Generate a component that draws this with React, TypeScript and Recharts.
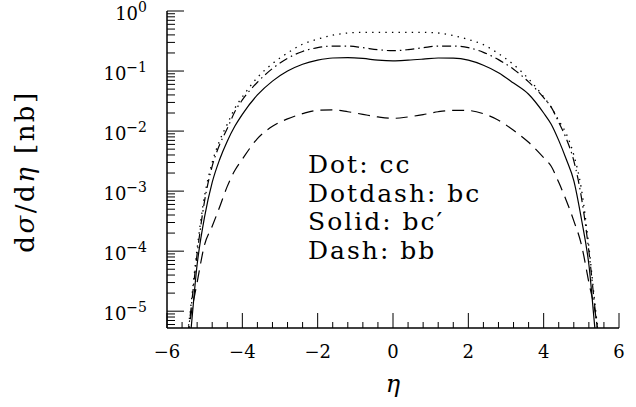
import { LineChart, Line, XAxis, YAxis, Customized } from "recharts";

// pseudorapidity grid and the four curves (dσ/dη in nb)
const ETA = [
  -5.6, -5.4, -5.2, -5.0, -4.8, -4.6, -4.4, -4.2, -4.0, -3.6, -3.2, -2.8, -2.4, -2.0, -1.6, -1.2, -0.8, -0.4, 0,
  0.4, 0.8, 1.2, 1.6, 2.0, 2.4, 2.8, 3.2, 3.6, 4.0, 4.2, 4.4, 4.6, 4.8, 5.0, 5.2, 5.4, 5.6,
];
const CC = [
  1e-6, 8e-6, 1.1e-4, 8.5e-4, 3e-3, 7e-3, 0.013, 0.024, 0.037, 0.078, 0.133, 0.2, 0.28, 0.34, 0.395, 0.43, 0.44, 0.44, 0.44,
  0.44, 0.44, 0.43, 0.39, 0.335, 0.275, 0.195, 0.128, 0.074, 0.037, 0.025, 0.015, 9e-3, 4e-3, 1.1e-3, 1.2e-4, 8e-6, 1e-6,
];
const BC = [
  1e-6, 7e-6, 9e-5, 7e-4, 2.6e-3, 6e-3, 0.011, 0.021, 0.033, 0.065, 0.11, 0.163, 0.212, 0.245, 0.261, 0.261, 0.245, 0.227, 0.218,
  0.227, 0.245, 0.261, 0.261, 0.245, 0.205, 0.155, 0.107, 0.066, 0.036, 0.025, 0.014, 7.5e-3, 3.2e-3, 8e-4, 1e-4, 7e-6, 1e-6,
];
const BCP = [
  5e-7, 3e-6, 6e-5, 3.8e-4, 1.4e-3, 3.4e-3, 6.8e-3, 0.012, 0.019, 0.04, 0.068, 0.1, 0.13, 0.152, 0.165, 0.167, 0.162, 0.152, 0.148,
  0.152, 0.158, 0.165, 0.164, 0.152, 0.125, 0.094, 0.063, 0.041, 0.02, 0.013, 7e-3, 3.4e-3, 1.5e-3, 3.5e-4, 6e-5, 3e-6, 5e-7,
];
const BB = [
  4e-7, 6e-6, 3e-5, 1.3e-4, 2.6e-4, 5.5e-4, 1.2e-3, 2.2e-3, 3.4e-3, 7.5e-3, 0.012, 0.016, 0.0195, 0.0222, 0.0225, 0.021, 0.019, 0.0172, 0.0163,
  0.0172, 0.0188, 0.021, 0.0222, 0.022, 0.0195, 0.0152, 0.0103, 6.5e-3, 3.6e-3, 2.6e-3, 1.4e-3, 7e-4, 3.2e-4, 1.3e-4, 3e-5, 7e-6, 4e-7,
];

const NOTES = ["Dot: cc", "Dotdash: bc", "Solid: bc\u2032", "Dash: bb"];

const Y_MIN = 5.25e-6;
const FONT = "DejaVu Serif";

const data = ETA.map((eta, i) => ({ eta, cc: CC[i], bc: BC[i], bcp: BCP[i], bb: BB[i] }));

const X_TICKS: number[] = [];
for (let k = 0; k <= 30; k++) X_TICKS.push(Math.round((-6 + 0.4 * k) * 10) / 10);

const Y_TICKS: number[] = [];
for (let e = -6; e <= 0; e++) {
  for (let m = 1; m <= 9; m++) {
    const v = m * Math.pow(10, e);
    if (v >= Y_MIN && v <= 1.0000001) Y_TICKS.push(v);
  }
}

const isXMajor = (v: number) => Math.abs(v / 2 - Math.round(v / 2)) < 1e-6;
const isYMajor = (v: number) => Math.abs(Math.log10(v) - Math.round(Math.log10(v))) < 1e-6;
const minus = (n: number) => (n < 0 ? "\u2212" + -n : String(n));

function XTick(props: any) {
  const { x, y, payload, side } = props;
  const major = isXMajor(payload.value);
  const len = major ? 15 : 6;
  const dir = side === "bottom" ? -1 : 1;
  return (
    <g>
      <line x1={x} x2={x} y1={y} y2={y + dir * len} stroke="#000" strokeWidth={1} />
      {side === "bottom" && major && (
        <text x={x} y={y + 30} textAnchor="middle" fontFamily={FONT} fontSize={18} fill="#000">
          {minus(payload.value)}
        </text>
      )}
    </g>
  );
}

function YTick(props: any) {
  const { x, y, payload, side } = props;
  const major = isYMajor(payload.value);
  const len = major ? 17 : 8;
  const dir = side === "left" ? 1 : -1;
  const exp = Math.round(Math.log10(payload.value));
  return (
    <g>
      <line x1={x} x2={x + dir * len} y1={y} y2={y} stroke="#000" strokeWidth={1} />
      {side === "left" && major && (
        <text x={x - 20} y={y + 9} textAnchor="end" fontFamily={FONT} fill="#000">
          <tspan fontSize={18}>10</tspan>
          <tspan fontSize={14} dy={-8}>{minus(exp)}</tspan>
        </text>
      )}
    </g>
  );
}

function XTitle(props: any) {
  const vb = props.viewBox;
  return (
    <text x={vb.x + vb.width / 2} y={vb.y + 64} textAnchor="middle" fontFamily={FONT} fontSize={24} fontStyle="italic" fill="#000">
      η
    </text>
  );
}

function YTitle(props: any) {
  const vb = props.viewBox;
  const cy = vb.y + vb.height / 2 + 2;
  const cx = 34;
  return (
    <text x={cx} y={cy} transform={`rotate(-90, ${cx}, ${cy})`} textAnchor="middle" fontFamily={FONT} fontSize={26} letterSpacing={2.5} fill="#000">
      d<tspan fontStyle="italic">σ</tspan>/d<tspan fontStyle="italic">η</tspan> [nb]
    </text>
  );
}

function Notes() {
  return (
    <g>
      {NOTES.map((t, i) => (
        <text key={t} x={308} y={173 + 28.5 * i} fontFamily={FONT} fontSize={25} letterSpacing={2} fill="#000">
          {t}
        </text>
      ))}
    </g>
  );
}

const frame = { stroke: "#000", strokeWidth: 1.5 };

export default function App() {
  return (
    <div style={{ position: "absolute", left: 0, top: 0, background: "#fff" }}>
      <LineChart width={636} height={407} data={data} margin={{ top: 11, right: 17, left: 0, bottom: 0 }}>
        <XAxis
          xAxisId="bottom"
          dataKey="eta"
          type="number"
          domain={[-6, 6]}
          allowDataOverflow
          ticks={X_TICKS}
          interval={0}
          tickLine={false}
          tickSize={0}
          tickMargin={0}
          tick={(p: any) => <XTick {...p} side="bottom" />}
          axisLine={frame}
          height={79}
          label={<XTitle />}
        />
        <XAxis
          xAxisId="top"
          orientation="top"
          dataKey="eta"
          type="number"
          domain={[-6, 6]}
          allowDataOverflow
          ticks={X_TICKS}
          interval={0}
          tickLine={false}
          tickSize={0}
          tickMargin={0}
          tick={(p: any) => <XTick {...p} side="top" />}
          axisLine={frame}
          height={0}
        />
        <YAxis
          yAxisId="left"
          type="number"
          scale="log"
          domain={[Y_MIN, 1]}
          allowDataOverflow
          ticks={Y_TICKS}
          interval={0}
          tickLine={false}
          tickSize={0}
          tickMargin={0}
          tick={(p: any) => <YTick {...p} side="left" />}
          axisLine={frame}
          width={167}
          label={<YTitle />}
        />
        <YAxis
          yAxisId="right"
          orientation="right"
          type="number"
          scale="log"
          domain={[Y_MIN, 1]}
          allowDataOverflow
          ticks={Y_TICKS}
          interval={0}
          tickLine={false}
          tickSize={0}
          tickMargin={0}
          tick={(p: any) => <YTick {...p} side="right" />}
          axisLine={frame}
          width={0}
        />
        <Line xAxisId="bottom" yAxisId="left" dataKey="cc" type="monotone" stroke="#000" strokeWidth={1.3} strokeDasharray="1.4 5.2" dot={false} isAnimationActive={false} />
        <Line xAxisId="bottom" yAxisId="left" dataKey="bc" type="monotone" stroke="#000" strokeWidth={1.2} strokeDasharray="9 4 1.5 4" dot={false} isAnimationActive={false} />
        <Line xAxisId="bottom" yAxisId="left" dataKey="bcp" type="monotone" stroke="#000" strokeWidth={1.2} dot={false} isAnimationActive={false} />
        <Line xAxisId="bottom" yAxisId="left" dataKey="bb" type="monotone" stroke="#000" strokeWidth={1.2} strokeDasharray="12 7" dot={false} isAnimationActive={false} />
        <Customized component={Notes} />
      </LineChart>
    </div>
  );
}
